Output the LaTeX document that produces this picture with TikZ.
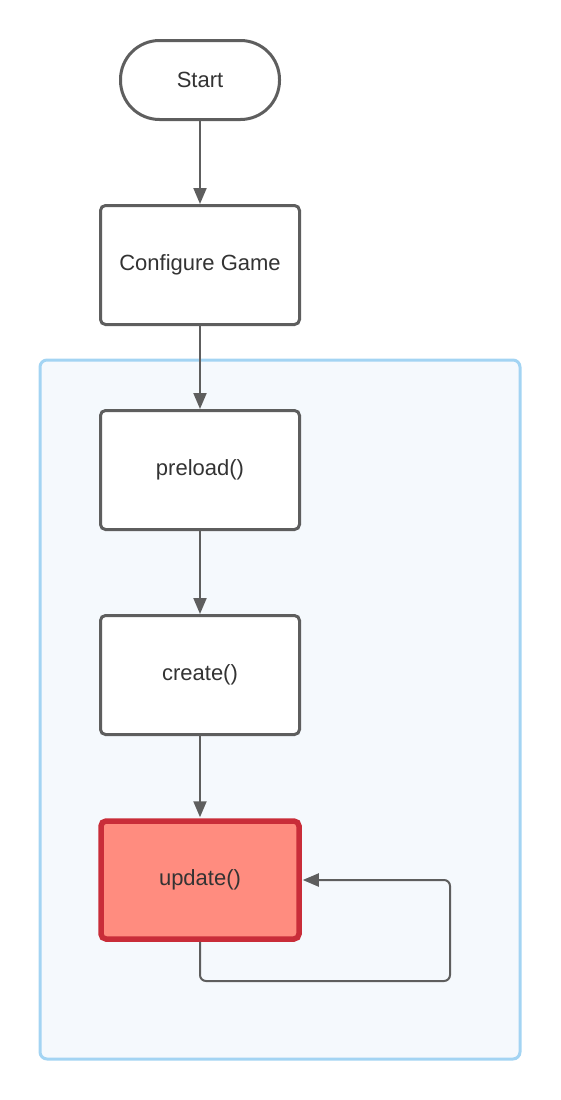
\documentclass[tikz,border=0pt]{standalone}
\usepackage{fontspec}
\setmainfont{Liberation Sans}
\usetikzlibrary{arrows.meta}
\definecolor{edge}{HTML}{5E5E5E}
\definecolor{txt}{HTML}{333333}
\definecolor{contb}{HTML}{A3D4F3}
\definecolor{contf}{HTML}{F5F9FD}
\definecolor{updf}{HTML}{FF8C7F}
\definecolor{updb}{HTML}{C92D39}
\tikzset{
  box/.style={draw=edge, line width=3pt, fill=white, rounded corners=5pt, minimum width=199pt, minimum height=119pt, font=\fontsize{22}{26}\selectfont, text=txt},
  startbox/.style={draw=edge, line width=3pt, fill=white, rounded corners=39pt, minimum width=159pt, minimum height=79pt, font=\fontsize{22}{26}\selectfont, text=txt},
  upd/.style={box, draw=updb, fill=updf, line width=5.5pt, minimum width=198pt, minimum height=118pt},
  conn/.style={draw=edge, line width=2pt, -{Triangle[length=16pt,width=13pt]}},
}
\begin{document}
\begin{tikzpicture}[x=1pt,y=-1pt]
\useasboundingbox (0,0) rectangle (560,1100);
\draw[draw=contb, fill=contf, line width=3pt, rounded corners=7pt] (40,360) rectangle (520,1059);
\node[startbox] (start) at (200,80) {Start};
\node[box] (config) at (200,265) {Configure Game};
\node[box] (preload) at (200,470) {preload()};
\node[box] (create) at (200,675) {create()};
\node[upd] (update) at (200,880) {update()};
\draw[conn] (start) -- (config);
\draw[conn] (config) -- (preload);
\draw[conn] (preload) -- (create);
\draw[conn, shorten >=1pt] (create) -- (update);
\coordinate (c1) at (200,981);
\coordinate (c2) at (450,981);
\coordinate (c3) at (450,880);
\draw[conn, rounded corners=6pt] (update.south) -- (c1) -- (c2) -- (c3) -- ([xshift=1pt]update.east);
\end{tikzpicture}
\end{document}
